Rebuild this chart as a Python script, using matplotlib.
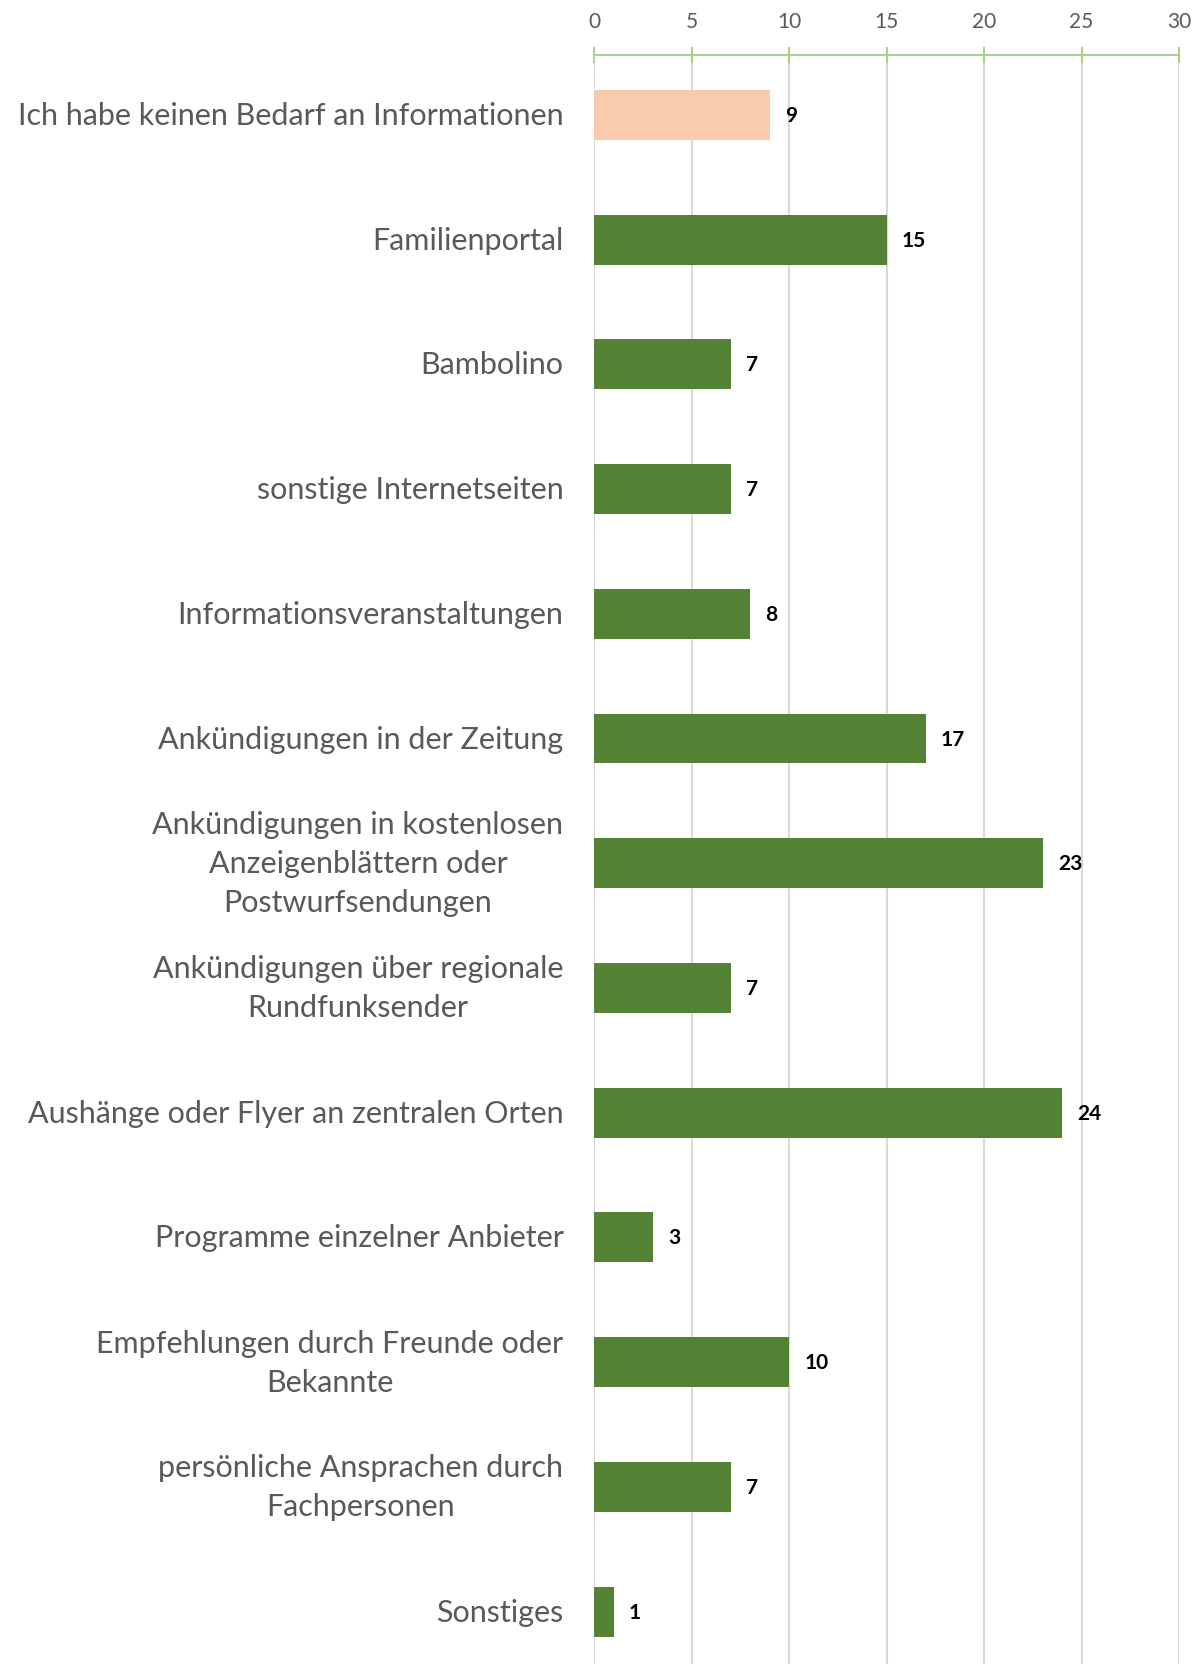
import matplotlib.pyplot as plt

# survey answers, top to bottom as in the chart
labels = [
    'Ich habe keinen Bedarf an Informationen',
    'Familienportal',
    'Bambolino',
    'sonstige Internetseiten',
    'Informationsveranstaltungen',
    'Ankündigungen in der Zeitung',
    'Ankündigungen in kostenlosen\nAnzeigenblättern oder\nPostwurfsendungen',
    'Ankündigungen über regionale\nRundfunksender',
    'Aushänge oder Flyer an zentralen Orten',
    'Programme einzelner Anbieter',
    'Empfehlungen durch Freunde oder\nBekannte',
    'persönliche Ansprachen durch\nFachpersonen',
    'Sonstiges',
]
values = [9, 15, 7, 7, 8, 17, 23, 7, 24, 3, 10, 7, 1]
x_ticks = [0, 5, 10, 15, 20, 25, 30]

plt.rcParams['font.family'] = ['Lato', 'DejaVu Sans']

fig = plt.figure(figsize=(12.02, 16.65), dpi=100)
ax = fig.add_axes([594 / 1202, 0, (1179 - 594) / 1202, 1 - 56 / 1665])

pos = list(range(len(labels)))
bar_colors = ['#F8CBAD'] + ['#548235'] * (len(labels) - 1)
ax.barh(pos, values, height=0.4, color=bar_colors, zorder=3)

for p, v in zip(pos, values):
    ax.annotate(str(v), (v, p), xytext=(11, 0), textcoords='offset points',
                ha='left', va='center', fontsize=15, fontweight='bold', color='black')

ax.set_xlim(0, 30)
ax.set_ylim(12.42, -0.48)
ax.set_xticks(x_ticks)
ax.xaxis.tick_top()
ax.tick_params(axis='x', direction='inout', length=11, width=1.5, color='#A9D18E',
               labelsize=15, labelcolor='#595959', pad=12)
ax.set_yticks(pos)
ax.set_yticklabels(labels)
ax.tick_params(axis='y', length=0, labelsize=22, labelcolor='#595959', pad=22)
for t in ax.get_yticklabels():
    t.set_multialignment('center')
    t.set_verticalalignment('center')
    t.set_linespacing(1.48)

ax.grid(axis='x', color='#D9D9D9', linewidth=1.5, zorder=0)
for side in ['left', 'right', 'bottom']:
    ax.spines[side].set_visible(False)
ax.spines['top'].set_color('#A9D18E')
ax.spines['top'].set_linewidth(1.5)
ax.spines['top'].set_zorder(4)

fig.savefig('out.png', dpi=100)
